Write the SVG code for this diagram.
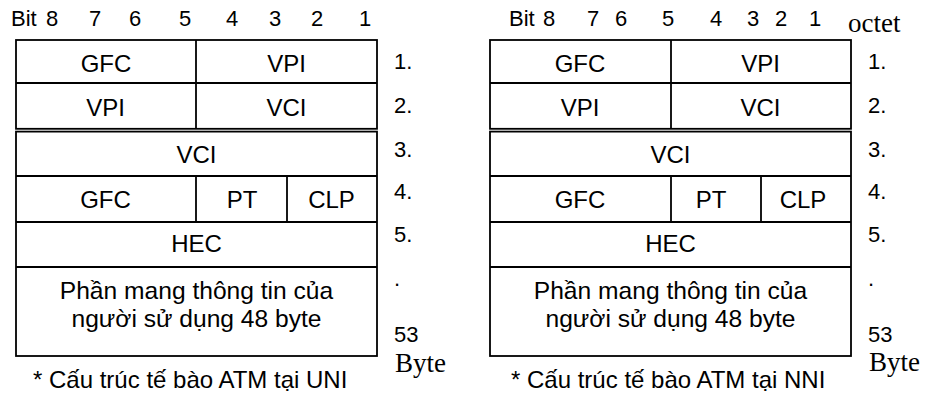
<svg xmlns="http://www.w3.org/2000/svg" width="927" height="395" viewBox="0 0 927 395">
<style>
.box{fill:none;stroke:#000;stroke-width:1.8}
.ln{stroke:#000;stroke-width:1.8}
.t{font-family:"Liberation Sans",Arial,sans-serif;font-size:24px;fill:#000;text-anchor:middle}
.p{font-size:24.6px}
.h{font-family:"Liberation Sans",Arial,sans-serif;font-size:22px;fill:#000}
.s{font-family:"Liberation Serif","Times New Roman",serif;font-size:27px;fill:#000}
.c{font-family:"Liberation Sans",Arial,sans-serif;font-size:24px;fill:#000}
</style>
<rect width="927" height="395" fill="#fff"/>

<!-- UNI table -->
<g id="uni-header">
<text class="h" x="11" y="26">Bit</text>
<text class="h" x="46" y="26">8</text>
<text class="h" x="89" y="26">7</text>
<text class="h" x="129" y="26">6</text>
<text class="h" x="179" y="26">5</text>
<text class="h" x="226" y="26">4</text>
<text class="h" x="269" y="26">3</text>
<text class="h" x="311" y="26">2</text>
<text class="h" x="359" y="26">1</text>
</g>
<g id="uni-table">
<rect class="box" x="16" y="40" width="361" height="88.8"/>
<rect class="box" x="16" y="131.6" width="361" height="224.4"/>
<line class="ln" x1="16" y1="83" x2="377" y2="83"/>
<line class="ln" x1="196" y1="40" x2="196" y2="128.8"/>
<line class="ln" x1="16" y1="176" x2="377" y2="176"/>
<line class="ln" x1="16" y1="222" x2="377" y2="222"/>
<line class="ln" x1="16" y1="267" x2="377" y2="267"/>
<line class="ln" x1="196" y1="176" x2="196" y2="222"/>
<line class="ln" x1="287" y1="176" x2="287" y2="222"/>
</g>
<g id="uni-cells">
<text class="t" x="106" y="71.7">GFC</text>
<text class="t" x="286.5" y="71.7">VPI</text>
<text class="t" x="105.5" y="116">VPI</text>
<text class="t" x="286.5" y="116">VCI</text>
<text class="t" x="196.5" y="162.7">VCI</text>
<text class="t" x="105.5" y="208.3">GFC</text>
<text class="t" x="242" y="208.3">PT</text>
<text class="t" x="331.5" y="208.3">CLP</text>
<text class="t" x="196.5" y="252.3">HEC</text>
<text class="t p" x="196.5" y="299.3">Phần mang thông tin của</text>
<text class="t p" x="196.5" y="327">người sử dụng 48 byte</text>
</g>
<g id="uni-octets">
<text class="h" x="394" y="69.3">1.</text>
<text class="h" x="394" y="112.7">2.</text>
<text class="h" x="394" y="156.7">3.</text>
<text class="h" x="394" y="198.5">4.</text>
<text class="h" x="394" y="242.3">5.</text>
<text class="h" x="394" y="286">.</text>
<text class="h" x="394" y="342">53</text>
<text class="s" x="395" y="372">Byte</text>
</g>
<g id="uni-caption">
<text class="c" x="33" y="388.3">* Cấu trúc tế bào ATM tại UNI</text>
</g>

<!-- NNI table -->
<g id="nni-header">
<text class="h" x="509" y="26">Bit</text>
<text class="h" x="543" y="26">8</text>
<text class="h" x="587" y="26">7</text>
<text class="h" x="615" y="26">6</text>
<text class="h" x="662" y="26">5</text>
<text class="h" x="710" y="26">4</text>
<text class="h" x="747" y="26">3</text>
<text class="h" x="775" y="26">2</text>
<text class="h" x="809" y="26">1</text>
<text class="s" x="848" y="31.7">octet</text>
</g>
<g id="nni-table">
<rect class="box" x="490" y="40" width="361" height="88.8"/>
<rect class="box" x="490" y="131.6" width="361" height="224.4"/>
<line class="ln" x1="490" y1="83" x2="851" y2="83"/>
<line class="ln" x1="671" y1="40" x2="671" y2="128.8"/>
<line class="ln" x1="490" y1="176" x2="851" y2="176"/>
<line class="ln" x1="490" y1="222" x2="851" y2="222"/>
<line class="ln" x1="490" y1="267" x2="851" y2="267"/>
<line class="ln" x1="671" y1="176" x2="671" y2="222"/>
<line class="ln" x1="761" y1="176" x2="761" y2="222"/>
</g>
<g id="nni-cells">
<text class="t" x="580" y="71.7">GFC</text>
<text class="t" x="760.5" y="71.7">VPI</text>
<text class="t" x="580" y="116">VPI</text>
<text class="t" x="760.5" y="116">VCI</text>
<text class="t" x="670.5" y="162.7">VCI</text>
<text class="t" x="580" y="208.3">GFC</text>
<text class="t" x="711" y="208.3">PT</text>
<text class="t" x="803" y="208.3">CLP</text>
<text class="t" x="670.5" y="252.3">HEC</text>
<text class="t p" x="670.5" y="299.3">Phần mang thông tin của</text>
<text class="t p" x="670.5" y="327">người sử dụng 48 byte</text>
</g>
<g id="nni-octets">
<text class="h" x="868" y="69.3">1.</text>
<text class="h" x="868" y="112.7">2.</text>
<text class="h" x="868" y="156.7">3.</text>
<text class="h" x="868" y="198.5">4.</text>
<text class="h" x="868" y="242.3">5.</text>
<text class="h" x="868" y="286">.</text>
<text class="h" x="868" y="342">53</text>
<text class="s" x="869" y="371">Byte</text>
</g>
<g id="nni-caption">
<text class="c" x="511" y="388.3">* Cấu trúc tế bào ATM tại NNI</text>
</g>
</svg>
